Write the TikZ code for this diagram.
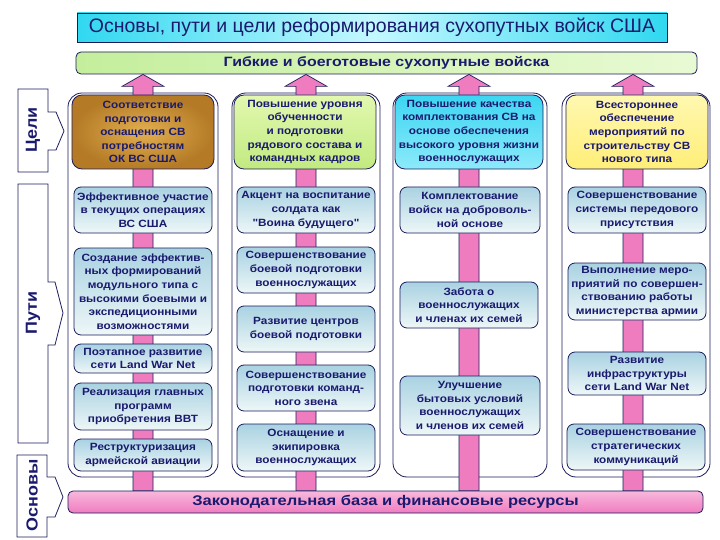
\documentclass[tikz,border=0pt]{standalone}
\usepackage{fontspec}
\setmainfont{Liberation Sans}
\newfontfamily\boxfont[FakeStretch=1.12]{Liberation Sans}
\newfontfamily\widefont[FakeStretch=1.18]{Liberation Sans}
\usetikzlibrary{calc}
\definecolor{navy}{HTML}{1C1C5C}
\definecolor{txt}{HTML}{1A1A6E}
\definecolor{boxtop}{HTML}{A9D2E2}
\definecolor{boxbot}{HTML}{EEF7F7}
\definecolor{pinkA}{HTML}{F07CC0}
\definecolor{pinkB}{HTML}{F8B8DC}
\definecolor{cyanA}{HTML}{30D8F0}
\definecolor{cyanB}{HTML}{C4F8FF}
\definecolor{greenA}{HTML}{C4EE9C}
\definecolor{greenB}{HTML}{E8FAD4}
\definecolor{goldIn}{HTML}{E2B050}
\definecolor{goldOut}{HTML}{B47A26}
\definecolor{lgreenA}{HTML}{E2F8B0}
\definecolor{lgreenB}{HTML}{C2EA80}
\definecolor{cyanT}{HTML}{3CD6F2}
\definecolor{cyanBt}{HTML}{8CEAFA}
\definecolor{yelA}{HTML}{FFF8B0}
\definecolor{yelB}{HTML}{FFEE78}
\begin{document}
\begin{tikzpicture}[x=1pt,y=-1pt,
  ibox/.style={draw=navy, line width=0.8pt, rounded corners=7pt,
    top color=boxtop, bottom color=boxbot, text=txt, align=center,
    font={\boxfont\bfseries\fontsize{10.5}{13.6}\selectfont},
    inner sep=1pt, minimum width=138pt},
  topbox/.style={ibox, minimum width=142pt, rounded corners=10pt},
  colbox/.style={draw=navy, line width=0.8pt, fill=white, rounded corners=14pt},
  shaft/.style={draw=navy, line width=0.7pt, fill=pinkA},
  lbl/.style={draw=navy, line width=0.8pt, fill=white},
  lbltext/.style={text=txt, rotate=90, font={\boxfont\bfseries\fontsize{16}{16}\selectfont}}
]
\useasboundingbox (0,0) rectangle (720,540);
\fill[white] (0,0) rectangle (720,540);

% title and goal bars
\node[draw=navy, line width=0.9pt, left color=cyanA, right color=cyanA, middle color=cyanB,
  minimum width=590pt, minimum height=29pt, inner sep=0pt, text=txt,
  font={\fontsize{19.5}{19.5}\selectfont}] (title) at (372,27.5)
  {Основы, пути и цели реформирования сухопутных войск США};
\node[draw=navy, line width=0.8pt, rounded corners=5pt, left color=greenA, right color=greenB,
  minimum width=621pt, minimum height=22pt, inner sep=0pt, text=txt,
  font={\widefont\bfseries\fontsize{13.5}{13.5}\selectfont}] (goal) at (386.5,63)
  {Гибкие и боеготовые сухопутные войска};
\node[draw=navy, line width=0.8pt, rounded corners=5pt, top color=pinkB, bottom color=pinkA,
  minimum width=635pt, minimum height=22pt, inner sep=0pt, text=txt,
  font={\widefont\bfseries\fontsize{14}{14}\selectfont}] (base) at (385.5,502)
  {Законодательная база и финансовые ресурсы};

% column containers
\node[colbox, minimum width=150pt, minimum height=384pt] (col1) at (143,285) {};
\node[colbox, minimum width=148pt, minimum height=384pt] (col2) at (306,285) {};
\node[colbox, minimum width=154pt, minimum height=384pt] (col3) at (470,285) {};
\node[colbox, minimum width=148pt, minimum height=384pt] (col4) at (636,285) {};

% shafts with arrow heads
\coordinate (s1) at (143,0);
\coordinate (s2) at (306,0);
\coordinate (s3) at (469,0);
\coordinate (s4) at (633,0);
\foreach \s in {s1,s2,s3,s4}{
  \draw[shaft] let \p1=(base.north -| \s), \p2=(goal.south -| \s) in
    (\x1-10pt,\y1) -- (\x1-10pt,\y2-12pt) -- (\x1-21pt,\y2-12pt) -- (\x2,\y2)
    -- (\x1+21pt,\y2-12pt) -- (\x1+10pt,\y2-12pt) -- (\x1+10pt,\y1) -- cycle;
}

% column 1
\node[topbox, minimum height=74pt, shading=radial, inner color=goldIn, outer color=goldOut] (a1) at (143,132)
  {Соответствие\\подготовки и\\оснащения СВ\\потребностям\\ОК ВС США};
\node[ibox, minimum height=46pt] (b1) at (143,210)
  {Эффективное участие\\в текущих операциях\\ВС США};
\node[ibox, minimum height=87pt] (c1) at (143,291.5)
  {Создание эффектив-\\ных формирований\\модульного типа с\\высокими боевыми и\\экспедиционными\\возможностями};
\node[ibox, minimum height=29pt] (d1) at (143,358.5)
  {Поэтапное развитие\\сети Land War Net};
\node[ibox, minimum height=47pt] (e1) at (143,406.5)
  {Реализация главных\\программ\\приобретения ВВТ};
\node[ibox, minimum height=32pt] (f1) at (143,455)
  {Реструктуризация\\армейской авиации};

% column 2
\node[topbox, minimum height=74pt, top color=lgreenA, bottom color=lgreenB] (a2) at (305,132)
  {Повышение уровня\\обученности\\и подготовки\\рядового состава и\\командных кадров};
\node[ibox, minimum height=46pt] (b2) at (306,210)
  {Акцент на воспитание\\солдата как\\"Воина будущего"};
\node[ibox, minimum height=46pt] (c2) at (306,270)
  {Совершенствование\\боевой подготовки\\военнослужащих};
\node[ibox, minimum height=46pt] (d2) at (306,329)
  {Развитие центров\\боевой подготовки};
\node[ibox, minimum height=46pt] (e2) at (306,388)
  {Совершенствование\\подготовки команд-\\ного звена};
\node[ibox, minimum height=47pt] (f2) at (306,447.5)
  {Оснащение и\\экипировка\\военнослужащих};

% column 3
\node[topbox, minimum height=74pt, minimum width=148pt, top color=cyanT, bottom color=cyanBt] (a3) at (469,132)
  {Повышение качества\\комплектования СВ на\\основе обеспечения\\высокого уровня жизни\\военнослужащих};
\node[ibox, minimum height=46pt, minimum width=140pt] (b3) at (470,210)
  {Комплектование\\войск на доброволь-\\ной основе};
\node[ibox, minimum height=46pt, minimum width=138pt] (c3) at (469,305)
  {Забота о\\военнослужащих\\и членах их семей};
\node[ibox, minimum height=59pt, minimum width=140pt] (d3) at (470,405.5)
  {Улучшение\\бытовых условий\\военнослужащих\\и членов их семей};

% column 4
\node[topbox, minimum height=74pt, top color=yelA, bottom color=yelB] (a4) at (637,132)
  {Всестороннее\\обеспечение\\мероприятий по\\строительству СВ\\нового типа};
\node[ibox, minimum height=46pt] (b4) at (637,210)
  {Совершенствование\\системы передового\\присутствия};
\node[ibox, minimum height=57pt] (c4) at (637,291.5)
  {Выполнение меро-\\приятий по совершен-\\ствованию работы\\министерства армии};
\node[ibox, minimum height=43pt] (d4) at (637,373.5)
  {Развитие\\инфраструктуры\\сети Land War Net};
\node[ibox, minimum height=46pt] (e4) at (636,447)
  {Совершенствование\\стратегических\\коммуникаций};

% left labels
\draw[lbl] (18,89) -- (48,89) -- (48,112) -- (56,112) -- (64,131) -- (56,150) -- (48,150)
  -- (48,172) -- (18,172) -- cycle;
\node[lbltext] (goals) at (33,130) {Цели};
\draw[lbl] (18,184) -- (48,184) -- (48,282) -- (55,282) -- (63,313) -- (55,345) -- (48,345)
  -- (48,443) -- (18,443) -- cycle;
\node[lbltext] (ways) at (33,313) {Пути};
\draw[lbl] (17,455) -- (47,455) -- (47,477) -- (55,477) -- (63,497) -- (55,517) -- (47,517)
  -- (47,537) -- (17,537) -- cycle;
\node[lbltext] (basis) at (32,495) {Основы};
\end{tikzpicture}
\end{document}
